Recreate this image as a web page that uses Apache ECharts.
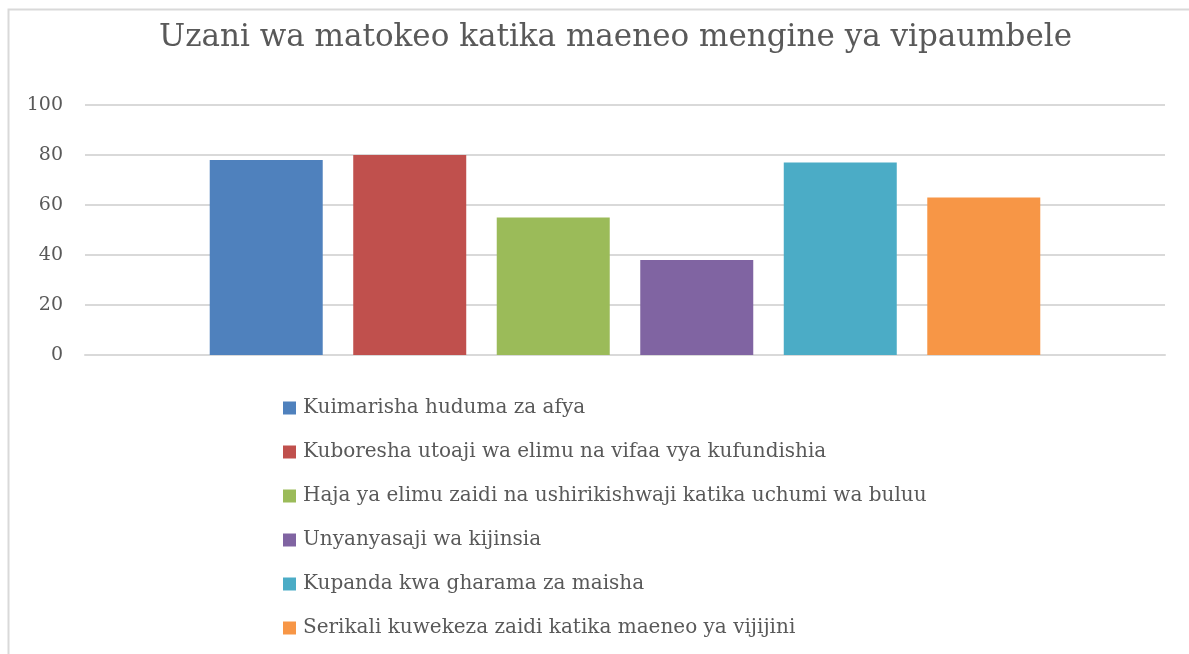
<!DOCTYPE html>
<html>
<head>
<meta charset="utf-8">
<script src="https://cdn.jsdelivr.net/npm/echarts@6/dist/echarts.min.js"></script>
<style>
  html, body { margin: 0; padding: 0; background: #fff; }
  #main { width: 1189px; height: 654px; }
</style>
</head>
<body>
<div id="main"></div>
<script>
// data
var titleText = "Uzani wa matokeo katika maeneo mengine ya vipaumbele";
var categories = [""];
var seriesNames = [
  "Kuimarisha huduma za afya",
  "Kuboresha utoaji wa elimu na vifaa vya kufundishia",
  "Haja ya elimu zaidi na ushirikishwaji katika uchumi wa buluu",
  "Unyanyasaji wa kijinsia",
  "Kupanda kwa gharama za maisha",
  "Serikali kuwekeza zaidi katika maeneo ya vijijini"
];
var seriesValues = [78, 80, 55, 38, 77, 63];
var colors = ["#4f81bd", "#c0504d", "#9bbb59", "#8064a2", "#4bacc6", "#f79646"];

var fontFam = "DejaVu Serif";
var textColor = "#595959";

var myChart = echarts.init(document.getElementById("main"));

var series = seriesNames.map(function (name, i) {
  return {
    name: name,
    type: "bar",
    data: [seriesValues[i]],
    barWidth: 113,
    barGap: "27%",
    itemStyle: { color: colors[i] }
  };
});

var option = {
  animation: false,
  color: colors,
  title: {
    text: titleText,
    left: 154,
    top: 17,
    textStyle: {
      fontFamily: fontFam,
      fontSize: 31,
      fontWeight: "normal",
      color: textColor
    }
  },
  legend: {
    orient: "vertical",
    left: 278,
    top: 393,
    itemWidth: 13,
    itemHeight: 13,
    itemGap: 24,
    icon: "rect",
    data: seriesNames,
    textStyle: {
      fontFamily: fontFam,
      fontSize: 20,
      color: textColor,
      padding: [0, 0, 0, 2]
    }
  },
  grid: {
    left: 85,
    right: 24,
    top: 105,
    bottom: 299
  },
  xAxis: {
    type: "category",
    data: categories,
    axisLine: { show: true, lineStyle: { color: "#d9d9d9", width: 2 } },
    axisTick: { show: false },
    axisLabel: { show: false }
  },
  yAxis: {
    type: "value",
    min: 0,
    max: 100,
    interval: 20,
    axisLine: { show: false },
    axisTick: { show: false },
    splitLine: { lineStyle: { color: "#d9d9d9", width: 2 } },
    axisLabel: {
      margin: 22,
      fontFamily: fontFam,
      fontSize: 19,
      color: textColor
    }
  },
  graphic: [
    {
      type: "rect",
      left: 6,
      top: 7,
      shape: { width: 1300, height: 800 },
      style: { fill: "none", stroke: "#d9d9d9", lineWidth: 2 },
      silent: true,
      z: -1
    }
  ],
  series: series
};

myChart.setOption(option);
</script>
</body>
</html>
